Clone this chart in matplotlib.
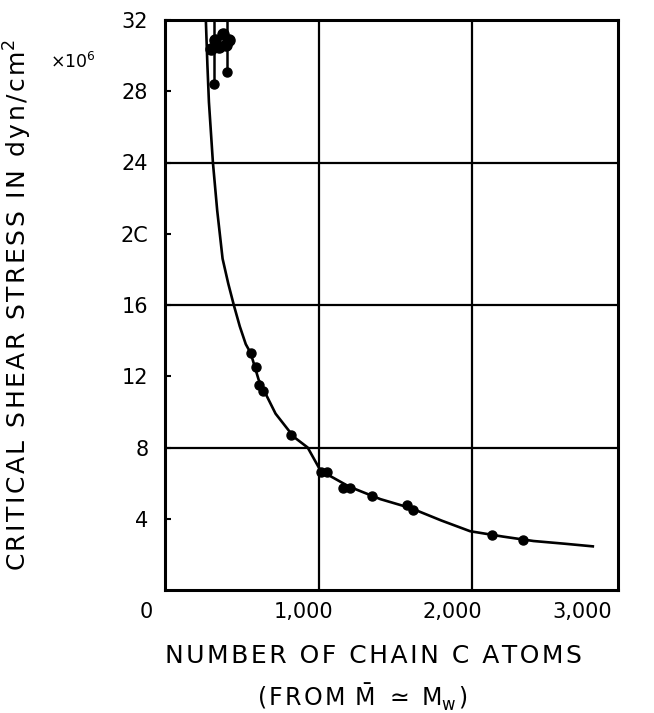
import matplotlib
matplotlib.use("Agg")
import matplotlib.pyplot as plt
import matplotlib.transforms as mtransforms

# fitted curve
curve_x = [266, 276, 286, 312, 340, 375, 412, 448, 487, 526, 558, 610, 720, 838, 929,
           1013, 1200, 1403, 1600, 1800, 1987, 2200, 2400, 2600, 2786]
curve_y = [32.0, 29.5, 27.4, 24.0, 21.3, 18.6, 17.2, 16.0, 14.8, 13.8, 13.3, 11.8, 9.9,
           8.6, 8.0, 6.7, 5.8, 5.1, 4.6, 3.9, 3.3, 3.0, 2.75, 2.6, 2.45]

# measured points along the curve
dot_x = [558, 591, 610, 636, 818, 1013, 1058, 1156, 1208, 1351, 1578, 1617, 2130, 2331]
dot_y = [13.3, 12.5, 11.5, 11.2, 8.7, 6.65, 6.6, 5.7, 5.7, 5.3, 4.8, 4.5, 3.1, 2.8]

# cluster near the top (low chain length)
cluster_x = [300, 325, 350, 375, 400, 420]
cluster_y = [30.4, 30.9, 30.5, 31.2, 30.6, 30.9]
hang_x = [318, 403]
hang_y = [28.4, 29.1]

xtick_pos = [-125, 900, 1870, 2720]
xtick_labels = ["0", "1,000", "2,000", "3,000"]
ytick_vals = [4, 8, 12, 16, 20, 24, 28, 32]
ytick_labels = ["4", "8", "12", "16", "2C", "24", "28", "32"]
grid_x = [1000, 2000]
grid_y = [8, 16, 24]

HS = "\u200a"  # hair space, for the wide letter spacing of the original


def spaced(s):
    return HS.join(s)


fig = plt.figure(figsize=(6.54, 7.13), dpi=100)
ax = fig.add_axes([165 / 654, 1 - 590 / 713, (618 - 165) / 654, (590 - 20) / 713])
ax.set_xlim(0, 2950)
ax.set_ylim(0, 32)

for g in grid_x:
    ax.axvline(g, color="black", lw=1.6, zorder=1)
for g in grid_y:
    ax.axhline(g, color="black", lw=1.6, zorder=1)

ax.plot(curve_x, curve_y, color="black", lw=1.9, zorder=2, solid_joinstyle="round")
ax.plot(dot_x, dot_y, "o", color="black", ms=6.5, zorder=3)
ax.plot(cluster_x, cluster_y, "o", color="black", ms=8, zorder=3)
ax.vlines(hang_x, hang_y, 32, color="black", lw=1.8, zorder=2)
ax.plot(hang_x, hang_y, "o", color="black", ms=6.5, zorder=3)

for s in ax.spines.values():
    s.set_linewidth(2.2)

ax.set_xticks([])
ax.set_yticks(ytick_vals)
ax.set_yticklabels(ytick_labels, fontsize=15)
ax.tick_params(axis="y", direction="in", length=4, width=1.5, pad=12)

trans = mtransforms.blended_transform_factory(ax.transData, ax.transAxes)
for xp, lab in zip(xtick_pos, xtick_labels):
    ax.text(xp, -0.038, lab, transform=trans, ha="center", va="center",
            fontsize=15, clip_on=False)

fig.text(18 / 654, 1 - 305 / 713, spaced("CRITICAL SHEAR STRESS IN dyn/cm") + "$^2$",
         rotation=90, ha="center", va="center", fontsize=18)
fig.text(50 / 654, 1 - 62 / 713, "×10$^6$", ha="left", va="center", fontsize=12.5)
fig.text(373 / 654, 1 - 656 / 713, spaced("NUMBER OF CHAIN C ATOMS"),
         ha="center", va="center", fontsize=18)
fig.text(362 / 654, 1 - 697 / 713,
         spaced("(FROM ") + r"$\bar{\mathrm{M}}$" + HS + " " + r"$\simeq$"
         + " " + "M" + r"$_\mathrm{w}$" + HS + ")",
         ha="center", va="center", fontsize=17)

fig.savefig("out.png", dpi=100)
